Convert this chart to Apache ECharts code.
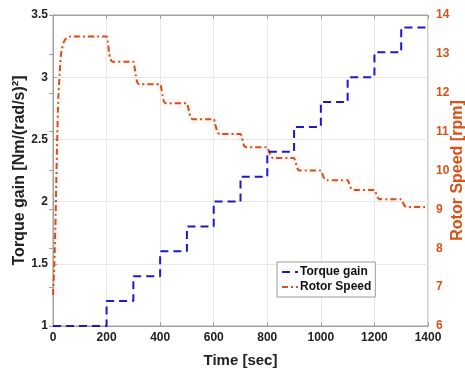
<!DOCTYPE html>
<html>
<head>
<meta charset="utf-8">
<script src="https://cdn.jsdelivr.net/npm/echarts@6/dist/echarts.min.js"></script>
<style>
    html, body { margin: 0; padding: 0; background: #fff; }
    #rotorCharts { width: 465px; height: 371px; }
</style>
</head>
<body>
<div id="rotorCharts"></div>
<script>
    // torque gain steps (left axis)
    var torqueTime = [0, 200, 300, 400, 500, 600, 700, 800, 900, 1000, 1100, 1200, 1300, 1400]
    var torqueGain = [1.0, 1.2, 1.4, 1.6, 1.8, 2.0, 2.2, 2.4, 2.6, 2.8, 3.0, 3.2, 3.4, 3.4]

    // rotor speed (right axis, rpm)
    var rotorTime = [0, 5, 10, 15, 20, 25, 30, 40, 50, 65,
        200, 205, 209, 214, 222,
        300, 304, 309, 314, 322,
        400, 404, 409, 414, 422,
        500, 504, 509, 514, 522,
        600, 604, 609, 614, 622,
        700, 704, 709, 714, 722,
        800, 804, 809, 814, 822,
        900, 904, 909, 914, 922,
        1000, 1004, 1009, 1014, 1022,
        1100, 1104, 1109, 1114, 1122,
        1200, 1204, 1209, 1214, 1222,
        1300, 1304, 1309, 1314, 1322, 1400]
    var rotorSpeed = [6.8, 7.6, 8.9, 10.6, 11.9, 12.5, 13.0, 13.3, 13.4, 13.45,
        13.45, 13.3, 13.05, 12.87, 12.8,
        12.8, 12.68, 12.45, 12.28, 12.22,
        12.22, 12.12, 11.93, 11.78, 11.73,
        11.73, 11.64, 11.48, 11.36, 11.32,
        11.32, 11.24, 11.1, 10.98, 10.94,
        10.94, 10.87, 10.74, 10.63, 10.6,
        10.6, 10.54, 10.44, 10.35, 10.32,
        10.32, 10.25, 10.13, 10.03, 10.0,
        10.0, 9.95, 9.85, 9.78, 9.75,
        9.75, 9.7, 9.6, 9.53, 9.5,
        9.5, 9.45, 9.36, 9.29, 9.26,
        9.26, 9.22, 9.14, 9.08, 9.06, 9.06]

    var xTicks = [0, 200, 400, 600, 800, 1000, 1200, 1400]

    var fontFam = '"Liberation Sans", Arial, sans-serif'
    var orange = '#D95319'
    var blue = '#1a1acc'

    function pairs(xs, ys) {
        return xs.map(function (x, i) { return [x, ys[i]] })
    }

    var option = {
        animation: false,
        textStyle: { fontFamily: fontFam },
        grid: {
            left: 53, right: 37, top: 15, bottom: 45,
            outerBoundsMode: 'none',
            show: true, borderColor: '#a0a0a0', borderWidth: 1
        },
        legend: {
            left: 277, top: 262,
            orient: 'vertical',
            backgroundColor: '#fff',
            borderColor: '#9a9a9a', borderWidth: 1,
            padding: [4, 4, 4, 4],
            itemWidth: 16, itemHeight: 10, itemGap: 3,
            itemStyle: { opacity: 0 },
            textStyle: { fontFamily: fontFam, fontSize: 12, fontWeight: 'bold', color: '#111', padding: [0, 0, 0, -3] },
            data: ['Torque gain', 'Rotor Speed']
        },
        xAxis: [
            {
                type: 'value', min: 0, max: 1400, interval: 200,
                name: 'Time [sec]', nameLocation: 'middle', nameGap: 27,
                nameMoveOverlap: false,
                nameTextStyle: { fontSize: 15, fontWeight: 'bold', color: '#222' },
                axisLine: { show: true, lineStyle: { color: '#a0a0a0' } },
                axisTick: { show: true, inside: true, length: 4, lineStyle: { color: '#a0a0a0' } },
                axisLabel: {
                    margin: 6, fontSize: 12, fontWeight: 'bold', color: '#222',
                    formatter: function (v) { return xTicks.indexOf(v) >= 0 ? String(v) : '' }
                },
                splitLine: { show: true, lineStyle: { color: '#e8e8e8' } }
            },
            {
                type: 'value', min: 0, max: 1400, interval: 200, position: 'top',
                axisLine: { show: true, lineStyle: { color: '#a0a0a0' } },
                axisTick: { show: true, inside: true, length: 4, lineStyle: { color: '#a0a0a0' } },
                axisLabel: { show: false },
                splitLine: { show: false }
            }
        ],
        yAxis: [
            {
                type: 'value', min: 1, max: 3.5, interval: 0.5,
                name: 'Torque gain [Nm/(rad/s)²]', nameLocation: 'middle', nameGap: 25,
                nameMoveOverlap: false,
                nameTextStyle: { fontSize: 16, fontWeight: 'bold', color: '#222' },
                axisLine: { show: true, lineStyle: { color: '#a0a0a0' } },
                axisTick: { show: true, inside: true, length: 4, lineStyle: { color: '#a0a0a0' } },
                axisLabel: { margin: 5, fontSize: 12, fontWeight: 'bold', color: '#222' },
                splitLine: { show: true, lineStyle: { color: '#e8e8e8' } }
            },
            {
                type: 'value', min: 6, max: 14, interval: 1, position: 'right',
                name: 'Rotor Speed [rpm]', nameLocation: 'middle', nameGap: 22,
                nameRotate: 90, nameMoveOverlap: false,
                nameTextStyle: { fontSize: 16, fontWeight: 'bold', color: orange },
                axisLine: { show: true, lineStyle: { color: '#a0a0a0' } },
                axisTick: { show: true, inside: true, length: 4, lineStyle: { color: '#a0a0a0' } },
                axisLabel: { margin: 8, fontSize: 12, fontWeight: 'bold', color: orange },
                splitLine: { show: false }
            }
        ],
        series: [
            {
                name: 'Torque gain',
                type: 'line',
                step: 'end',
                symbol: 'none',
                data: pairs(torqueTime, torqueGain),
                itemStyle: { color: blue },
                lineStyle: { color: blue, width: 2, type: [8, 5] },
                z: 3
            },
            {
                name: 'Rotor Speed',
                type: 'line',
                yAxisIndex: 1,
                symbol: 'none',
                smooth: 0.2,
                data: pairs(rotorTime, rotorSpeed),
                itemStyle: { color: orange },
                lineStyle: {
                    color: '#c9532a', width: 2, type: [6, 3, 2, 3],
                    shadowColor: 'rgba(255,170,110,0.55)', shadowBlur: 4
                },
                z: 2
            }
        ]
    }

    var rotorCharts = echarts.init(document.getElementById('rotorCharts'))
    rotorCharts.setOption(option)
    window.addEventListener('resize', function () { rotorCharts.resize() })
</script>
</body>
</html>
